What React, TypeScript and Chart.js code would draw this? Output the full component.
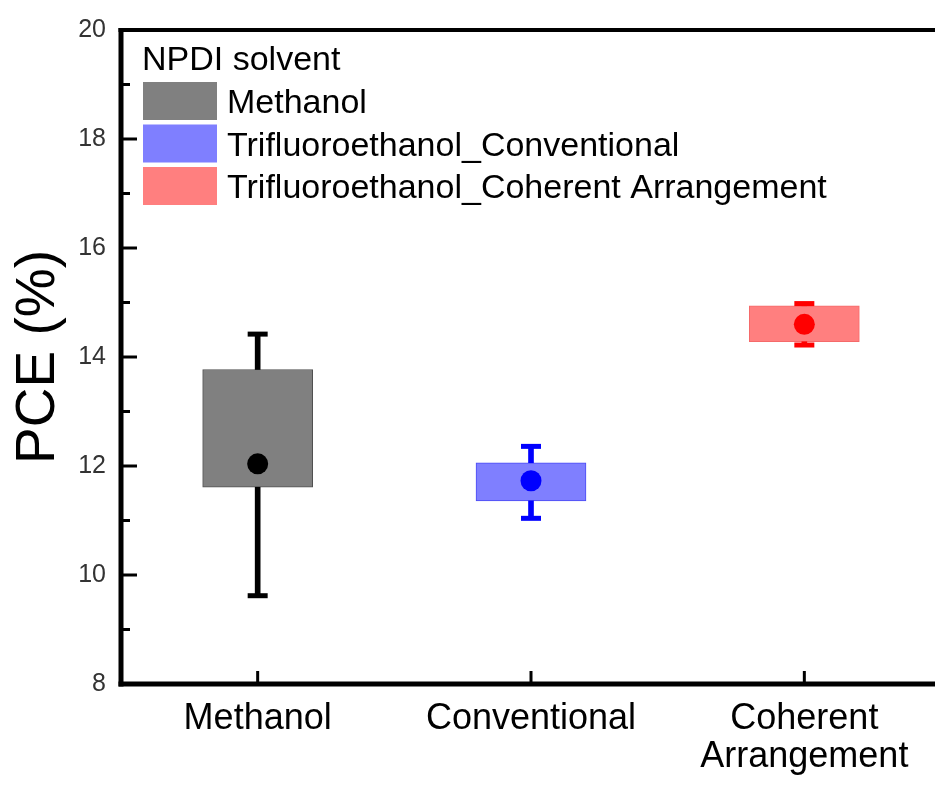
import React, { useEffect, useRef } from 'react';
import { Chart, registerables } from 'chart.js';

Chart.register(...registerables);

// ---- data ----
const categories: (string | string[])[] = ['Methanol', 'Conventional', ['Coherent', 'Arrangement']];
const legendTitle = 'NPDI solvent';
const legendLabels = ['Methanol', 'Trifluoroethanol_Conventional', 'Trifluoroethanol_Coherent Arrangement'];
const yMajorTicks = [8, 10, 12, 14, 16, 18, 20];
const yMinorTicks = [9, 11, 13, 15, 17, 19];
const boxLow = [11.61, 11.36, 14.28];
const boxHigh = [13.77, 12.06, 14.94];
const whiskerMin = [9.62, 11.04, 14.22];
const whiskerMax = [14.42, 12.36, 14.98];
const meanValues = [12.04, 11.73, 14.6];
const yTitle = 'PCE (%)';

// ---- styles ----
const boxFill = ['#808080', '#7f7fff', '#ff7f7f'];
const boxBorder = ['#505050', '#4a4af5', '#f56a6a'];
const markColor = ['#000000', '#0000ff', '#ff0000'];
const FONT = 'Arial, "Liberation Sans", sans-serif';

const framePlugin = {
  id: 'frame',
  afterDatasetsDraw(chart: any) {
    const { ctx, chartArea: a, scales } = chart;
    const y = scales.y;
    const x = scales.x;
    const line = (x1: number, y1: number, x2: number, y2: number) => {
      ctx.beginPath();
      ctx.moveTo(x1, y1);
      ctx.lineTo(x2, y2);
      ctx.stroke();
    };
    ctx.save();
    ctx.strokeStyle = '#000';
    ctx.lineCap = 'butt';
    ctx.lineWidth = 4;
    line(a.left - 2.5, a.top, a.right, a.top);
    ctx.lineWidth = 5;
    line(a.left, a.top - 2, a.left, a.bottom + 2.5);
    line(a.left - 2.5, a.bottom, a.right, a.bottom);
    ctx.lineWidth = 3;
    yMajorTicks.forEach((v) => {
      const p = y.getPixelForValue(v);
      line(a.left, p, a.left + 16, p);
    });
    yMinorTicks.forEach((v) => {
      const p = y.getPixelForValue(v);
      line(a.left, p, a.left + 9, p);
    });
    categories.forEach((_, i) => {
      const p = x.getPixelForValue(i);
      line(p, a.bottom, p, a.bottom - 13);
    });
    ctx.restore();
  },
};

const legendPlugin = {
  id: 'boxLegend',
  afterDraw(chart: any) {
    const { ctx, chartArea: a } = chart;
    ctx.save();
    ctx.font = `34px ${FONT}`;
    ctx.fillStyle = '#000';
    ctx.textAlign = 'left';
    ctx.textBaseline = 'alphabetic';
    const left = a.left + 21;
    ctx.fillText(legendTitle, left, a.top + 40);
    legendLabels.forEach((lab, i) => {
      const top = a.top + 52 + i * 42.5;
      ctx.fillStyle = boxFill[i];
      ctx.fillRect(left + 1, top, 74, 38);
      ctx.fillStyle = '#000';
      ctx.fillText(lab, left + 85, top + 19 + 12);
    });
    ctx.restore();
  },
};

export default function App() {
  const ref = useRef<HTMLCanvasElement>(null);
  useEffect(() => {
    if (!ref.current) return;
    const chart = new Chart(ref.current, {
      type: 'bar',
      data: {
        labels: categories as any,
        datasets: [
          {
            type: 'bar',
            label: 'box',
            data: boxLow.map((l, i) => [l, boxHigh[i]]) as any,
            backgroundColor: boxFill,
            borderColor: boxBorder,
            borderWidth: 1,
            borderSkipped: false,
            barThickness: 110,
            grouped: false,
            order: 5,
          },
          {
            type: 'bar',
            label: 'upper whisker',
            data: boxHigh.map((h, i) => [h, whiskerMax[i]]) as any,
            backgroundColor: markColor,
            borderWidth: 0,
            barThickness: 5,
            grouped: false,
            order: 4,
          },
          {
            type: 'bar',
            label: 'lower whisker',
            data: whiskerMin.map((m, i) => [m, boxLow[i]]) as any,
            backgroundColor: markColor,
            borderWidth: 0,
            barThickness: 5,
            grouped: false,
            order: 3,
          },
          {
            type: 'line',
            label: 'max cap',
            data: whiskerMax,
            showLine: false,
            pointStyle: 'line',
            pointRadius: 10,
            pointBorderWidth: 5,
            pointBorderColor: markColor,
            pointBackgroundColor: markColor,
            order: 2,
          },
          {
            type: 'line',
            label: 'min cap',
            data: whiskerMin,
            showLine: false,
            pointStyle: 'line',
            pointRadius: 10,
            pointBorderWidth: 5,
            pointBorderColor: markColor,
            pointBackgroundColor: markColor,
            order: 2,
          },
          {
            type: 'line',
            label: 'mean',
            data: meanValues,
            showLine: false,
            pointStyle: 'circle',
            pointRadius: 10.5,
            pointBorderWidth: 0,
            pointBorderColor: markColor,
            pointBackgroundColor: markColor,
            order: 1,
          },
        ] as any,
      },
      options: {
        animation: false,
        responsive: false,
        devicePixelRatio: 1,
        events: [],
        layout: { autoPadding: false, padding: { top: 27, right: 4, left: 0, bottom: 0 } },
        plugins: {
          legend: { display: false },
          tooltip: { enabled: false },
        },
        scales: {
          x: {
            type: 'category',
            offset: true,
            grid: { display: false, drawTicks: false },
            border: { display: false },
            ticks: {
              font: { size: 36, family: FONT, lineHeight: 1.05 },
              color: '#000',
              padding: 16,
              maxRotation: 0,
              autoSkip: false,
            },
            afterFit(s: any) {
              s.height = 102;
            },
          },
          y: {
            min: 8,
            max: 20,
            ticks: {
              stepSize: 2,
              font: { size: 25, family: FONT },
              color: '#333',
              padding: 15,
            },
            grid: { display: false, drawTicks: false },
            border: { display: false },
            title: {
              display: true,
              text: yTitle,
              color: '#000',
              font: { size: 55, family: FONT, lineHeight: 1 },
              padding: { top: 11, bottom: 0 },
            },
            afterFit(s: any) {
              s.width = 121;
            },
          },
        },
      } as any,
      plugins: [framePlugin, legendPlugin],
    });
    return () => chart.destroy();
  }, []);

  return (
    <div
      style={{
        position: 'absolute',
        left: 0,
        top: 0,
        width: 935,
        height: 786,
        overflow: 'hidden',
        background: '#fff',
      }}
    >
      <canvas ref={ref} width={945} height={786} style={{ display: 'block', width: 945, height: 786 }} />
    </div>
  );
}
